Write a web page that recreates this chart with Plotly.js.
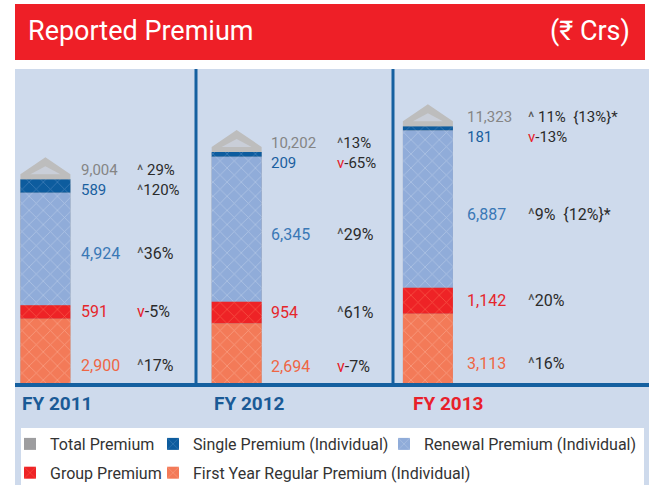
<!DOCTYPE html>
<html><head><meta charset="utf-8">
<script src="https://cdn.plot.ly/plotly-3.0.1.min.js"></script>
<style>html,body{margin:0;padding:0;background:#fff}#chart{width:649px;height:485px}</style>
</head><body><div id="chart"></div>
<script>
// ---- data ----
const categories = ['FY 2011', 'FY 2012', 'FY 2013'];
const fyrp = [2900, 2694, 3113];
const group = [591, 954, 1142];
const renewal = [4924, 6345, 6887];
const single = [589, 209, 181];
const total = [9004, 10202, 11323];
const fyrpGrowth = [17, -7, 16];
const groupGrowth = [-5, 61, 20];
const renewalGrowth = [36, 29, 9];
const singleGrowth = [120, -65, -13];
const totalGrowth = [29, 13, 11];
const totalNote = ['', '', '{13%}*'];
const renewalNote = ['', '', '{12%}*'];
const seriesNames = ['Total Premium', 'Single Premium (Individual)', 'Renewal Premium (Individual)', 'Group Premium', 'First Year Regular Premium (Individual)'];

// ---- geometry / style ----
const W = 649, H = 485, ML = 15, MT = 69, PB = 385;
const PW = W - ML, PH = PB - MT;
const PX_X = 191.25, X0PX = 45.4;
const xRange = [(ML - X0PX) / PX_X, (W - X0PX) / PX_X];
const Y_MAX = 13830;
const UPP = Y_MAX / PH;
const BW = 50 / PX_X;
const px = v => (v - ML) / PW;
const py = v => (PB - v) / PH;
const FONT = 'Roboto, "Liberation Sans", "DejaVu Sans", sans-serif';
const VAL_DX = [34, 32, 37];
const PCT_DX = [90, 98, 98];
const FY_DX = [-25, -25, -17];
const FY_COL = ['#1a5a96', '#1a5a96', '#e8202a'];
const C_TOTAL_TXT = '#858585', C_SINGLE_TXT = '#1a5f9f';

const xs = categories.map((c, i) => i);
const add = (a, b) => a.map((v, i) => v + b[i]);
const groupBase = fyrp.slice();
const renewalBase = add(fyrp, group);
const singleBase = add(renewalBase, renewal);

function bar(name, vals, base, color, fg, op, legend, lg) {
  return {
    type: 'bar', name: name, x: xs, y: vals, base: base, width: BW,
    marker: { color: color, line: { width: 0 },
      pattern: { shape: 'x', fillmode: 'overlay', size: 10, solidity: 0.15, fgcolor: fg, fgopacity: op } },
    legend: legend, legendgroup: lg, hoverinfo: 'skip'
  };
}

const traces = [];
traces.push({ type: 'bar', name: seriesNames[0], x: xs, y: total, width: BW,
  marker: { color: '#9d9d9f', line: { width: 0 } }, legend: 'legend', legendgroup: 'total', hoverinfo: 'skip' });
traces.push(bar(seriesNames[1], single, singleBase, '#0d5c9e', '#6a9ccc', 0.5, 'legend2', 'single'));
traces.push(bar(seriesNames[2], renewal, renewalBase, '#90acd9', '#c2d2ec', 0.6, 'legend3', 'renewal'));
traces.push(bar(seriesNames[3], group, groupBase, '#ee2326', '#ff8060', 0.5, 'legend', 'group'));
traces.push(bar(seriesNames[4], fyrp, null, '#f37a58', '#fbb39c', 0.6, 'legend2', 'fyrp'));

// total premium cap (chevron) on top of each stack
const capX = [], capY = [], inX = [], inY = [];
xs.forEach((x, i) => {
  const t = total[i], hw = BW / 2, ihw = hw * 0.6;
  capX.push(x - hw, x - hw, x, x + hw, x + hw, x - hw, null);
  capY.push(t, t + 5 * UPP, t + 22 * UPP, t + 5 * UPP, t, t, null);
  inX.push(x - ihw, x, x + ihw, x - ihw, null);
  inY.push(t + 5 * UPP, t + 13 * UPP, t + 5 * UPP, t + 5 * UPP, null);
});
traces.push({ type: 'scatter', x: capX, y: capY, mode: 'lines', fill: 'toself', fillcolor: '#bdbdbd',
  line: { width: 0, color: '#bdbdbd' }, showlegend: false, legendgroup: 'total', hoverinfo: 'skip' });
traces.push({ type: 'scatter', x: inX, y: inY, mode: 'lines', fill: 'toself', fillcolor: '#c9ced8',
  line: { width: 0, color: '#c9ced8' }, showlegend: false, legendgroup: 'total', hoverinfo: 'skip' });

// ---- annotations ----
const ann = [];
const fmt = v => v.toLocaleString('en-US');
const span = (c, t) => '<span style="color:' + c + '">' + t + '</span>';
function pct(g, note, gap) {
  const arrow = g >= 0 ? span('#555555', '^') : span('#e8202a', 'v');
  return arrow + (gap ? ' ' : '') + g + '%' + (note ? '  ' + note : '');
}
function lab(i, y, ysh, text, color, dx) {
  ann.push({ xref: 'x', yref: 'y', x: xs[i], y: y, xshift: dx, yshift: ysh, xanchor: 'left', yanchor: 'middle',
    align: 'left', text: text, showarrow: false, font: { family: FONT, size: 16, color: color } });
}
xs.forEach((x, i) => {
  // total + single share a two-line label at the top of the stack
  ann.push({ xref: 'x', yref: 'y', x: xs[i], y: total[i], xshift: VAL_DX[i], yshift: -1, xanchor: 'left', yanchor: 'middle',
    align: 'left', showarrow: false, font: { family: FONT, size: 15, color: C_TOTAL_TXT },
    text: span(C_TOTAL_TXT, fmt(total[i])) + '<br>' + span(C_SINGLE_TXT, fmt(single[i])) });
  ann.push({ xref: 'x', yref: 'y', x: xs[i], y: total[i], xshift: PCT_DX[i], yshift: -1, xanchor: 'left', yanchor: 'middle',
    align: 'left', showarrow: false, font: { family: FONT, size: 15, color: '#2b2b2b' },
    text: pct(totalGrowth[i], totalNote[i], i !== 1) + '<br>' + pct(singleGrowth[i], '', false) });
  lab(i, renewalBase[i] + renewal[i] / 2, -5, fmt(renewal[i]), '#3a78b6', VAL_DX[i]);
  lab(i, groupBase[i] + group[i] / 2, 0, fmt(group[i]), '#e5262b', VAL_DX[i]);
  lab(i, fyrp[i] * 0.3, 0, fmt(fyrp[i]), '#ef6644', VAL_DX[i]);
  lab(i, renewalBase[i] + renewal[i] / 2, -5, pct(renewalGrowth[i], renewalNote[i], false), '#2b2b2b', PCT_DX[i]);
  lab(i, groupBase[i] + group[i] / 2, 0, pct(groupGrowth[i], '', false), '#2b2b2b', PCT_DX[i]);
  lab(i, fyrp[i] * 0.3, 0, pct(fyrpGrowth[i], '', false), '#2b2b2b', PCT_DX[i]);
  ann.push({ xref: 'x', yref: 'y', x: xs[i], y: 0, xshift: FY_DX[i], yshift: -18, xanchor: 'left', yanchor: 'middle',
    text: '<b>' + categories[i] + '</b>', showarrow: false, font: { family: FONT, size: 19, color: FY_COL[i] } });
});
ann.push({ xref: 'paper', yref: 'paper', x: px(26), y: py(31), xanchor: 'left', yanchor: 'middle',
  text: 'Reported Premium', showarrow: false, font: { family: FONT, size: 27, color: '#ffffff' } });
ann.push({ xref: 'paper', yref: 'paper', x: px(632), y: py(31), xanchor: 'right', yanchor: 'middle',
  text: '(₹ Crs)', showarrow: false, font: { family: FONT, size: 27, color: '#ffffff' } });

// ---- shapes ----
const shapes = [
  { type: 'rect', xref: 'paper', yref: 'paper', x0: px(15), x1: px(645), y0: py(60), y1: py(4), fillcolor: '#ee1f27', line: { width: 0 }, layer: 'below' },
  { type: 'rect', xref: 'paper', yref: 'paper', x0: px(15), x1: px(649), y0: py(485), y1: py(69), fillcolor: '#cedaec', line: { width: 0 }, layer: 'below' },
  { type: 'rect', xref: 'paper', yref: 'paper', x0: px(21), x1: px(644), y0: py(485), y1: py(428), fillcolor: '#ffffff', line: { width: 0 }, layer: 'below' },
  { type: 'line', xref: 'paper', yref: 'paper', x0: px(196), x1: px(196), y0: 0, y1: 1, line: { color: '#1560a0', width: 3 }, layer: 'above' },
  { type: 'line', xref: 'paper', yref: 'paper', x0: px(393), x1: px(393), y0: 0, y1: 1, line: { color: '#1560a0', width: 3 }, layer: 'above' },
  { type: 'line', xref: 'paper', yref: 'paper', x0: 0, x1: 1, y0: py(385), y1: py(385), line: { color: '#1560a0', width: 4 }, layer: 'above' }
];

const legBase = { xanchor: 'left', yanchor: 'top', orientation: 'v', traceorder: 'grouped', tracegroupgap: 5,
  bgcolor: 'rgba(0,0,0,0)', borderwidth: 0, font: { family: FONT, size: 16, color: '#333333' } };

const layout = {
  width: W, height: H, margin: { l: ML, r: 0, t: MT, b: H - PB, pad: 0, autoexpand: false },
  paper_bgcolor: '#ffffff', plot_bgcolor: 'rgba(0,0,0,0)',
  barmode: 'overlay', showlegend: true, hovermode: false,
  xaxis: { range: xRange, visible: false, fixedrange: true },
  yaxis: { range: [0, Y_MAX], visible: false, fixedrange: true },
  legend: Object.assign({}, legBase, { x: px(10), y: py(427) }),
  legend2: Object.assign({}, legBase, { x: px(153), y: py(427) }),
  legend3: Object.assign({}, legBase, { x: px(384), y: py(427) }),
  annotations: ann, shapes: shapes,
  font: { family: FONT }
};

Plotly.newPlot('chart', traces, layout, { displayModeBar: false, staticPlot: true });
</script></body></html>
